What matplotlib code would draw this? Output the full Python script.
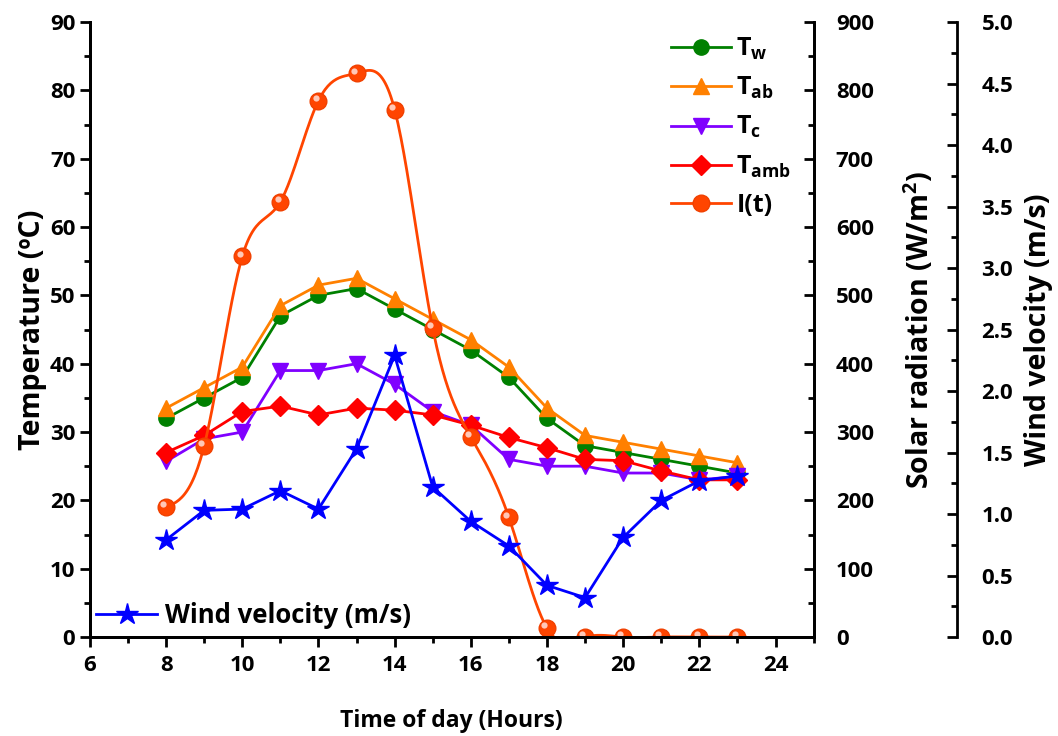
import numpy as np
import matplotlib
matplotlib.use('Agg')
from matplotlib import pyplot as plt
from matplotlib.ticker import MultipleLocator
from matplotlib.lines import Line2D
from matplotlib.transforms import offset_copy

# data
hours = [8, 9, 10, 11, 12, 13, 14, 15, 16, 17, 18, 19, 20, 21, 22, 23]
t_w = [32, 35, 38, 47, 50, 51, 48, 45, 42, 38, 32, 28, 27, 26, 25, 24]
t_ab = [33.5, 36.5, 39.5, 48.5, 51.5, 52.5, 49.5, 46.5, 43.5, 39.5, 33.5, 29.5, 28.5, 27.5, 26.5, 25.5]
t_c = [25.7, 29, 30, 39, 39, 40, 37, 33, 31, 26, 25, 25, 24, 24, 23, 23.5]
t_amb = [27, 29.5, 33, 33.8, 32.5, 33.5, 33.2, 32.5, 31, 29.2, 27.7, 26, 25.8, 24.3, 23, 23]
solar = [190, 280, 557, 637, 785, 825, 772, 452, 293, 175, 13, 0, 0, 0, 0, 0]
wind = [0.79, 1.03, 1.04, 1.19, 1.04, 1.53, 2.29, 1.22, 0.94, 0.74, 0.42, 0.32, 0.81, 1.11, 1.27, 1.31]

plt.rcParams['font.family'] = ['Open Sans', 'DejaVu Sans']
plt.rcParams['font.weight'] = 'bold'
plt.rcParams['mathtext.fontset'] = 'custom'
plt.rcParams['mathtext.rm'] = 'Open Sans:bold'
plt.rcParams['mathtext.bf'] = 'Open Sans:bold'
plt.rcParams['mathtext.it'] = 'Open Sans:bold'
plt.rcParams['mathtext.default'] = 'bf'


def spline(x, y, n=400):
    # natural cubic spline, like Origin's "spline" line connection
    x = np.asarray(x, float)
    y = np.asarray(y, float)
    k = len(x)
    h = np.diff(x)
    A = np.zeros((k, k))
    b = np.zeros(k)
    A[0, 0] = A[-1, -1] = 1
    for i in range(1, k - 1):
        A[i, i - 1] = h[i - 1]
        A[i, i] = 2 * (h[i - 1] + h[i])
        A[i, i + 1] = h[i]
        b[i] = 3 * ((y[i + 1] - y[i]) / h[i] - (y[i] - y[i - 1]) / h[i - 1])
    c = np.linalg.solve(A, b)
    xs = np.linspace(x[0], x[-1], n)
    idx = np.clip(np.searchsorted(x, xs) - 1, 0, k - 2)
    dx = xs - x[idx]
    bb = (y[idx + 1] - y[idx]) / h[idx] - h[idx] * (2 * c[idx] + c[idx + 1]) / 3
    dd = (c[idx + 1] - c[idx]) / (3 * h[idx])
    return xs, y[idx] + bb * dx + c[idx] * dx ** 2 + dd * dx ** 3


fig = plt.figure(figsize=(10.58, 7.36), dpi=100)
ax = fig.add_axes([0.085, 0.1345, 0.684, 0.8355])
ax2 = ax.twinx()
ax3 = ax.twinx()
ax3.spines['right'].set_position(('axes', 1.1975))

lw = 2
ax.plot(hours, t_w, color='#008000', marker='o', ms=11, lw=lw, label=r'$T_w$')
ax.plot(hours, t_ab, color='#FF8000', marker='^', ms=12, lw=lw, label=r'$T_{ab}$')
ax.plot(hours, t_c, color='#8000FF', marker='v', ms=12, lw=lw, label=r'$T_c$')
ax.plot(hours, t_amb, color='#FF0000', marker='D', ms=10, lw=lw, label=r'$T_{amb}$')

sx, sy = spline(hours, solar)
ax2.plot(sx, sy, color='#FF4500', lw=lw)
ax2.plot(hours, solar, ls='none', marker='o', ms=12, mfc='#FF4500', mec='#F04000')
hl = offset_copy(ax2.transData, fig=fig, x=-2, y=2, units='points')
ax2.plot(hours, solar, ls='none', marker='o', ms=4.5, mfc='#FFC8B8', mec='none', transform=hl)

ax3.plot(hours, wind, color='#0000FF', marker='*', ms=16, lw=lw)

ax.set_xlim(6, 25)
ax.set_ylim(0, 90)
ax2.set_ylim(0, 900)
ax3.set_ylim(0, 5)

ax.xaxis.set_major_locator(MultipleLocator(2))
ax.xaxis.set_minor_locator(MultipleLocator(1))
ax.yaxis.set_major_locator(MultipleLocator(10))
ax.yaxis.set_minor_locator(MultipleLocator(5))
ax2.yaxis.set_major_locator(MultipleLocator(100))
ax2.yaxis.set_minor_locator(MultipleLocator(50))
ax3.yaxis.set_major_locator(MultipleLocator(0.5))
ax3.yaxis.set_minor_locator(MultipleLocator(0.25))
ax3.yaxis.set_major_formatter('{x:.1f}')

for a in (ax, ax2, ax3):
    a.spines['top'].set_visible(False)
    for s in a.spines.values():
        s.set_linewidth(2)
    a.tick_params(which='major', length=7, width=2, labelsize=16)
    a.tick_params(which='minor', length=4, width=2)
ax.tick_params(axis='both', which='both', direction='out')
ax.tick_params(axis='x', pad=6)
ax2.tick_params(axis='y', which='both', direction='in', pad=16)
ax3.tick_params(axis='y', which='both', direction='in', pad=18)

ax.set_xlabel('Time of day (Hours)', fontsize=16.5, fontweight='bold', labelpad=24)
ax.set_ylabel('Temperature (ºC)', fontsize=20.5, fontweight='bold', labelpad=2)
ax2.set_ylabel('Solar radiation (W/m$^2$)', fontsize=20.5, fontweight='bold', labelpad=20)
ax3.set_ylabel('Wind velocity (m/s)', fontsize=20.5, fontweight='bold', labelpad=8)

handles, labels = ax.get_legend_handles_labels()
i_handle = Line2D([], [], color='#FF4500', marker='o', ms=12, lw=lw, mec='#F04000')
handles.append(i_handle)
labels.append('I(t)')
leg1 = ax3.legend(handles, labels, loc='upper right', bbox_to_anchor=(1.0, 1.015),
                  frameon=False, fontsize=18, handlelength=2.4, labelspacing=0.53,
                  handletextpad=0.2)
ax3.add_artist(leg1)
w_handle = Line2D([], [], color='#0000FF', marker='*', ms=16, lw=lw)
ax3.legend([w_handle], ['Wind velocity (m/s)'], loc='lower left', bbox_to_anchor=(-0.024, -0.025),
           frameon=False, fontsize=18.5, handlelength=2.4, handletextpad=0.3)

plt.savefig('out.png', dpi=100)
